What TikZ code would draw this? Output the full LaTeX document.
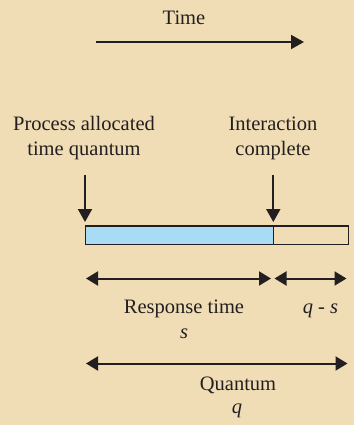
\documentclass[tikz,border=0pt]{standalone}
\usepackage{fontspec}
\setmainfont{Liberation Serif}
\usetikzlibrary{arrows.meta}
\definecolor{parch}{HTML}{F0DDB5}
\definecolor{barblue}{HTML}{A8DCF5}
\definecolor{ink}{HTML}{231F20}
\tikzset{
  lbl/.style={inner sep=0pt, anchor=base, text=ink, font=\fontsize{20.5}{24.5}\selectfont},
  arr/.style={line width=2pt, draw=ink, -{Triangle[length=13pt,width=14pt]}},
  dbl/.style={line width=2pt, draw=ink, {Triangle[length=12pt,width=14pt]}-{Triangle[length=12pt,width=14pt]}},
  barbox/.style={line width=1.5pt, draw=ink}
}
\begin{document}
\begin{tikzpicture}[x=1pt,y=-1pt]
\fill[parch] (0,0) rectangle (354,425);
\useasboundingbox (0,0) rectangle (354,425);
% Time
\node[lbl] (time) at (184,25) {Time};
\coordinate (t0) at (96,42);
\coordinate (t1) at (304,42);
\draw[arr] (t0) -- (t1);
% labels
\node[lbl, align=center] (pa) at (84,155) {Process allocated\\time quantum};
\node[lbl, align=center] (ic) at (273,155) {Interaction\\complete};
\coordinate (a0) at (85,175);
\coordinate (a1) at (85,222);
\coordinate (b0) at (273.3,175);
\coordinate (b1) at (273.3,222);
\draw[arr] (a0) -- (a1);
\draw[arr] (b0) -- (b1);
% bar
\coordinate (barL) at (85.7,226);
\coordinate (barM) at (273.3,244.3);
\coordinate (barMt) at (273.3,226);
\coordinate (barR) at (348.3,244.3);
\filldraw[barbox, fill=barblue] (barL) rectangle (barM);
\draw[barbox] (barMt) rectangle (barR);
% response time
\coordinate (r0) at (86,278.5);
\coordinate (r1) at (271,278.5);
\coordinate (q0) at (274.5,278.5);
\coordinate (q1) at (346.5,278.5);
\draw[dbl] (r0) -- (r1);
\draw[dbl] (q0) -- (q1);
\node[lbl] (rt) at (184,313) {Response time};
\node[lbl] (s) at (184,338) {\textit{s}};
\node[lbl] (qs) at (320.5,313) {\textit{q} - \textit{s}};
% quantum
\coordinate (u0) at (86,363.5);
\coordinate (u1) at (347.5,363.5);
\draw[dbl] (u0) -- (u1);
\node[lbl] (qu) at (238,390) {Quantum};
\node[lbl] (q) at (237,413) {\textit{q}};
\end{tikzpicture}
\end{document}
